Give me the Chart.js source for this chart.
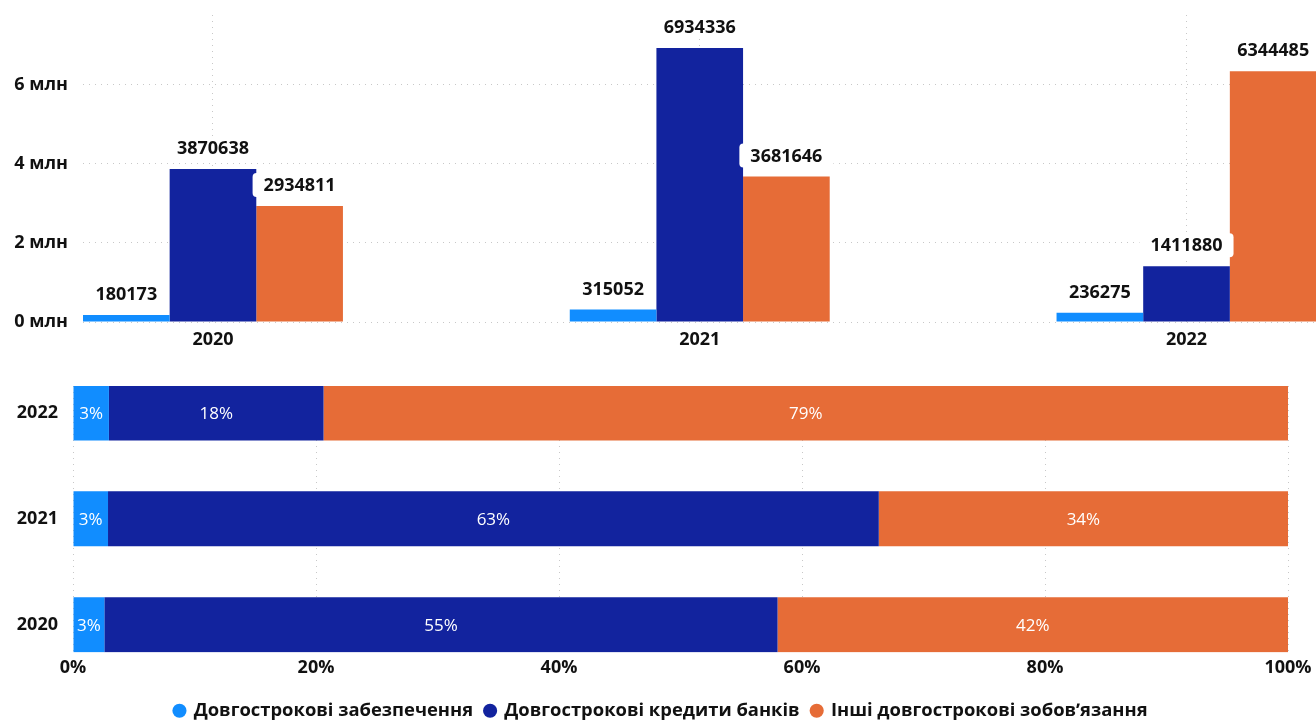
<!DOCTYPE html>
<html>
<head>
<meta charset="utf-8">
<script src="https://cdn.jsdelivr.net/npm/chart.js@4.4.1/dist/chart.umd.min.js"></script>
<style>
  body { margin: 0; background: #fff; }
  #wrapTop { position: absolute; left: 0; top: 0; }
  #wrapBottom { position: absolute; left: 0; top: 370px; }
</style>
</head>
<body>
<div id="wrapTop"><canvas id="topChart" width="1316" height="355"></canvas></div>
<div id="wrapBottom"><canvas id="bottomChart" width="1316" height="350"></canvas></div>
<script>
// data
const years = ["2020", "2021", "2022"];
const provisions = [180173, 315052, 236275];
const bankLoans = [3870638, 6934336, 1411880];
const otherLiabilities = [2934811, 3681646, 6344485];
const seriesNames = ["Довгострокові забезпечення", "Довгострокові кредити банків", "Іншi довгострокові зобовʼязання"];
const seriesColors = ["#118DFF", "#12239E", "#E66C37"];
const valueTicks = [0, 2000000, 4000000, 6000000];
const pctTicks = [0, 20, 40, 60, 80, 100];

const FONT = "'Open Sans', 'Noto Sans', sans-serif";
const GRID = "#c8c8c8";

function points(vals) {
    return vals.map(function (v, i) { return { x: i, y: v }; });
}

// 100% shares per year
const allSeries = [provisions, bankLoans, otherLiabilities];
const totals = years.map(function (y, i) {
    return provisions[i] + bankLoans[i] + otherLiabilities[i];
});
function shares(vals) {
    return vals.map(function (v, i) { return { x: v / totals[i] * 100, y: i }; });
}

// labels above bars, white rounded box behind
const valueLabels = {
    id: "valueLabels",
    afterDatasetsDraw(chart) {
        const ctx = chart.ctx;
        ctx.save();
        ctx.font = "bold 18px " + FONT;
        ctx.textAlign = "center";
        ctx.textBaseline = "middle";
        chart.data.datasets.forEach(function (ds, di) {
            chart.getDatasetMeta(di).data.forEach(function (bar, i) {
                const txt = String(ds.data[i].y);
                const w = ctx.measureText(txt).width + 22;
                const cy = bar.y - 21;
                ctx.fillStyle = "#fff";
                ctx.beginPath();
                ctx.roundRect(bar.x - w / 2, cy - 12, w, 24, 4);
                ctx.fill();
                ctx.fillStyle = "#111";
                ctx.fillText(txt, bar.x, cy + 1);
            });
        });
        ctx.restore();
    }
};

const pctLabels = {
    id: "pctLabels",
    afterDatasetsDraw(chart) {
        const ctx = chart.ctx;
        ctx.save();
        ctx.font = "17px " + FONT;
        ctx.textAlign = "center";
        ctx.textBaseline = "middle";
        ctx.fillStyle = "#fff";
        chart.data.datasets.forEach(function (ds, di) {
            chart.getDatasetMeta(di).data.forEach(function (bar, i) {
                const cx = (bar.x + bar.base) / 2;
                ctx.fillText(Math.round(ds.data[i].x) + "%", cx, bar.y + 1);
            });
        });
        ctx.restore();
    }
};

// legend sits a bit right of the canvas centre in the original
const legendShift = {
    id: "legendShift",
    afterLayout(chart) {
        chart.legend.left += 17;
        chart.legend.right += 17;
    }
};

Chart.defaults.font.family = FONT;

new Chart(document.getElementById("topChart"), {
    type: "bar",
    data: {
        datasets: allSeries.map(function (vals, k) {
            return {
                label: seriesNames[k],
                data: points(vals),
                backgroundColor: seriesColors[k],
                categoryPercentage: 0.534,
                barPercentage: 1
            };
        })
    },
    options: {
        responsive: false,
        animation: false,
        devicePixelRatio: 1,
        layout: { padding: { top: 15, right: 0, left: 0, bottom: 0 } },
        plugins: { legend: { display: false }, tooltip: { enabled: false } },
        scales: {
            x: {
                type: "linear",
                offset: false,
                min: -0.267,
                max: 2.266,
                afterBuildTicks: function (s) { s.ticks = years.map(function (y, i) { return { value: i }; }); },
                afterFit: function (s) { s.height = 33; s.paddingLeft = 0; s.paddingRight = 0; },
                ticks: {
                    callback: function (v) { return years[v]; },
                    color: "#111",
                    font: { size: 18, weight: "bold" },
                    padding: 7,
                    maxRotation: 0
                },
                grid: { color: GRID, drawTicks: false, offset: false },
                border: { display: false, dash: [1, 5] }
            },
            y: {
                min: 0,
                max: 7770000,
                afterBuildTicks: function (s) { s.ticks = valueTicks.map(function (v) { return { value: v }; }); },
                afterFit: function (s) { s.width = 83; s.paddingTop = 0; s.paddingBottom = 0; },
                ticks: {
                    callback: function (v) { return (v / 1000000) + " млн"; },
                    color: "#111",
                    font: { size: 18, weight: "bold" },
                    padding: 15
                },
                grid: { color: GRID, drawTicks: false },
                border: { display: false, dash: [1, 5] }
            }
        }
    },
    plugins: [valueLabels]
});

new Chart(document.getElementById("bottomChart"), {
    type: "bar",
    data: {
        datasets: allSeries.map(function (vals, k) {
            return {
                label: seriesNames[k],
                data: shares(vals),
                backgroundColor: seriesColors[k],
                categoryPercentage: 0.52,
                barPercentage: 1
            };
        })
    },
    options: {
        indexAxis: "y",
        responsive: false,
        animation: false,
        devicePixelRatio: 1,
        layout: { padding: { top: 16, right: 28, left: 0, bottom: -10 } },
        plugins: {
            tooltip: { enabled: false },
            legend: {
                position: "bottom",
                labels: {
                    usePointStyle: true,
                    pointStyle: "circle",
                    boxWidth: 10,
                    boxHeight: 10,
                    padding: 12,
                    color: "#111",
                    font: { size: 18.4, weight: "bold" }
                }
            }
        },
        scales: {
            x: {
                type: "linear",
                stacked: true,
                min: 0,
                max: 100,
                afterBuildTicks: function (s) { s.ticks = pctTicks.map(function (v) { return { value: v }; }); },
                afterFit: function (s) { s.height = 37; s.paddingLeft = 0; s.paddingRight = 0; },
                ticks: {
                    callback: function (v) { return v + "%"; },
                    color: "#111",
                    font: { size: 18, weight: "bold" },
                    padding: 4
                },
                grid: { color: GRID, drawTicks: false },
                border: { display: false, dash: [1, 5] }
            },
            y: {
                type: "linear",
                stacked: true,
                offset: false,
                min: -0.264,
                max: 2.255,
                afterBuildTicks: function (s) { s.ticks = years.map(function (y, i) { return { value: i }; }); },
                afterFit: function (s) { s.width = 73; s.paddingTop = 0; s.paddingBottom = 0; },
                ticks: {
                    callback: function (v) { return years[v]; },
                    color: "#111",
                    font: { size: 18, weight: "bold" },
                    padding: 15
                },
                grid: { display: false, drawTicks: false, offset: false },
                border: { display: false }
            }
        }
    },
    plugins: [pctLabels, legendShift]
});
</script>
</body>
</html>
